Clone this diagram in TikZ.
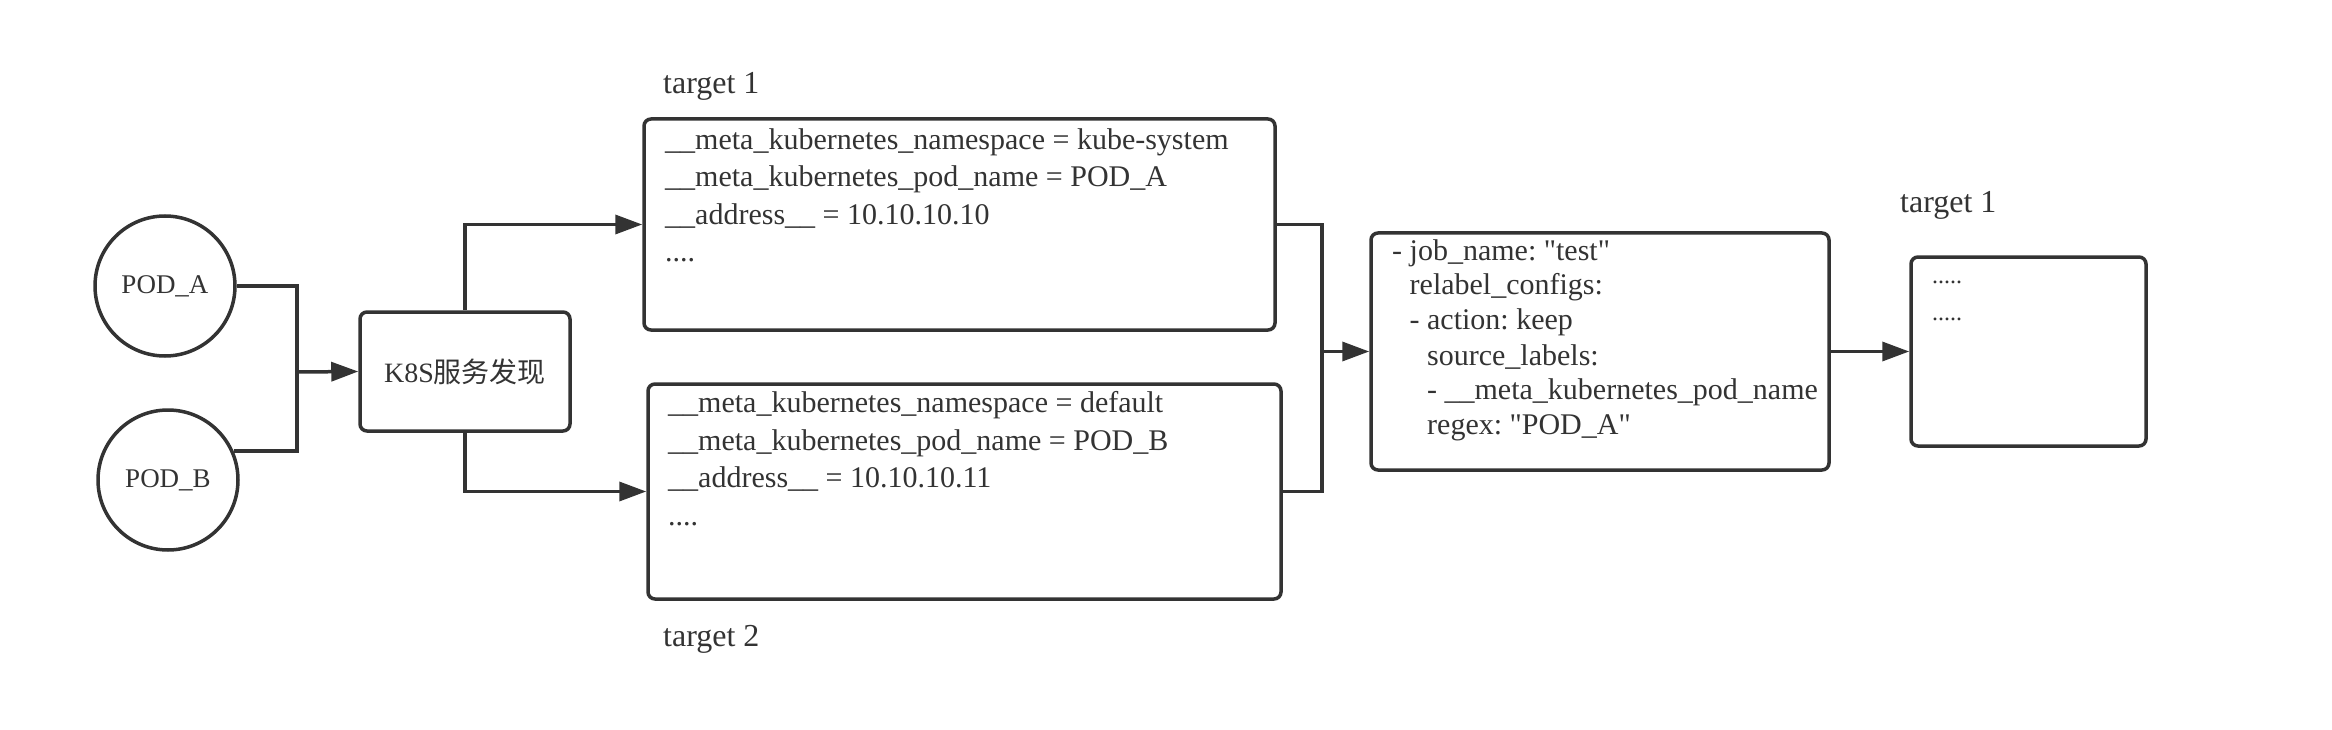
\documentclass[tikz,border=0pt]{standalone}
\usepackage{fontspec}
\setmainfont{Liberation Serif}
\newfontfamily\cjk{Noto Sans CJK SC}
\usetikzlibrary{arrows.meta}
\definecolor{ink}{HTML}{333333}
\frenchspacing
\begin{document}
\begin{tikzpicture}[x=1pt,y=-1pt,
  line/.style={draw=ink,line width=3.5pt},
  arr/.style={line,-{Triangle[length=27pt,width=19pt]}},
  boxshape/.style={draw=ink,line width=3.5pt,rounded corners=7pt,inner sep=0pt},
  pod/.style={draw=ink,line width=3.5pt,circle,minimum size=140pt,inner sep=0pt,text=ink,font=\fontsize{27}{32}\selectfont},
  txt/.style={anchor=base west,inner sep=0pt,text=ink,font=\fontsize{30}{37.5}\selectfont},
  yaml/.style={anchor=base west,inner sep=0pt,text=ink,font=\fontsize{30}{35}\selectfont},
  lbl/.style={anchor=base west,inner sep=0pt,text=ink,font=\fontsize{32}{38}\selectfont}
]
\useasboundingbox (0,0) rectangle (2332,730);

\node[pod] (podA) at (165,286) {POD\_A};
\node[pod] (podB) at (168,480) {POD\_B};
\node[boxshape,minimum width=210pt,minimum height=119pt,text=ink,font=\fontsize{28}{32}\selectfont] (k8s) at (465,371.5) {K8S{\cjk 服务发现}};
\node[boxshape,minimum width=631pt,minimum height=211pt] (box1) at (959.5,224.5) {};
\node[boxshape,minimum width=633pt,minimum height=215pt] (box2) at (964.5,491.5) {};
\node[boxshape,minimum width=458pt,minimum height=237pt] (box3) at (1600,351.5) {};
\node[boxshape,minimum width=235pt,minimum height=189pt] (box4) at (2028.5,351.5) {};

\node[txt] (t1) at (665,149.5) {\begin{tabular}[t]{@{}l@{}}\_\_meta\_kubernetes\_namespace = kube-system\\ \_\_meta\_kubernetes\_pod\_name = POD\_A\\ \_\_address\_\_ = 10.10.10.10\\ ....\end{tabular}};
\node[txt] (t2) at (668,412.5) {\begin{tabular}[t]{@{}l@{}}\_\_meta\_kubernetes\_namespace = default\\ \_\_meta\_kubernetes\_pod\_name = POD\_B\\ \_\_address\_\_ = 10.10.10.11\\ ....\end{tabular}};
\node[yaml] (t3) at (1392,260) {\begin{tabular}[t]{@{}l@{}}- job\_name: \textquotedbl test\textquotedbl\\ \hphantom{- }relabel\_configs:\\ \hphantom{- }- action: keep\\ \hphantom{- - }source\_labels:\\ \hphantom{- - }- \_\_meta\_kubernetes\_pod\_name\\ \hphantom{- - }regex: \textquotedbl POD\_A\textquotedbl\end{tabular}};
\node[anchor=base west,inner sep=0pt,text=ink,font=\fontsize{24}{38}\selectfont] (t4) at (1932,283) {\begin{tabular}[t]{@{}l@{}}.....\\ .....\end{tabular}};

\node[lbl] (lab1) at (663,94) {target 1};
\node[lbl] (lab2) at (663,646) {target 2};
\node[lbl] (lab3) at (1900,213) {target 1};

\coordinate (j1) at (297,372);
\coordinate (j2) at (1322,351.5);
\draw[line] (podA.east) -| (j1);
\draw[line] (podB.24) -| (j1);
\draw[arr] (j1) -- (k8s.west);
\draw[arr] (k8s.north) |- (box1.west);
\draw[arr] (k8s.south) |- (box2.west);
\draw[line] (box1.east) -| (j2);
\draw[line] (box2.east) -| (j2);
\draw[arr] (j2) -- (box3.west);
\draw[arr] (box3.east) -- (box4.west);
\end{tikzpicture}
\end{document}
